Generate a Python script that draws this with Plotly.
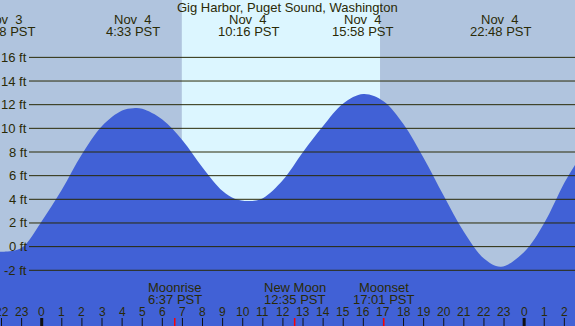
import plotly.graph_objects as go

W, H = 575, 326

# Tide curve: hours since Nov 4 00:00 PST, height in ft
hours = [-2.1, -1.87, -1.0, 0, 1, 2, 3, 4, 4.55, 5, 6, 7, 8, 9, 9.6, 10.3, 11,
         12, 13, 14, 15, 16, 17, 18, 19, 20, 21, 22, 22.85, 24, 25, 26, 26.6]
heights = [-0.42, -0.43, -0.1, 2.15, 4.8, 7.8, 10.2, 11.5, 11.7, 11.65, 10.75,
           9.0, 6.7, 4.7, 4.05, 3.85, 4.1, 5.63, 8.0, 10.2, 12.1, 12.9, 12.3,
           10.35, 7.5, 4.3, 1.25, -1.0, -1.7, -0.45, 2.0, 5.4, 7.1]

# Tide extremes labels (top)
event_hours = [-1.867, 4.55, 10.267, 15.967, 22.8]
event_dates = ["Nov\u00a0\u00a03", "Nov\u00a0\u00a04", "Nov\u00a0\u00a04", "Nov\u00a0\u00a04", "Nov\u00a0\u00a04"]
event_times = ["22:08 PST", "4:33 PST", "10:16 PST", "15:58 PST", "22:48 PST"]

# Moon events (bottom)
moon_hours = [6.617, 12.583, 17.017]
moon_names = ["Moonrise", "New Moon", "Moonset"]
moon_times = ["6:37 PST", "12:35 PST", "17:01 PST"]

# Daylight
sunrise_h, sunset_h = 6.97, 16.83

ft_ticks = [-2, 0, 2, 4, 6, 8, 10, 12, 14, 16]
hour_ticks = list(range(-2, 27))

X0, X1 = -2.075, 26.53
Y0, Y1 = -6.71, 20.85

BG = "#b0c4de"
DAY = "#dcf6ff"
FILL = "#4161d6"
INK = "#2a2a06"
FONT = "Liberation Sans, Arial, sans-serif"


def py(p):
    return 1 - p / H


fig = go.Figure()
fig.add_trace(go.Scatter(x=[X0 - 1, X1 + 1], y=[-20, -20], mode="lines",
                         line=dict(width=0), hoverinfo="skip", showlegend=False))
fig.add_trace(go.Scatter(x=hours, y=heights, mode="lines", fill="tonexty",
                         fillcolor=FILL, line=dict(width=0, color=FILL, shape="spline", smoothing=1.0),
                         hoverinfo="skip", showlegend=False))

shapes = []
shapes.append(dict(type="rect", xref="x", yref="paper", x0=sunrise_h, x1=sunset_h,
                   y0=0, y1=1, fillcolor=DAY, line=dict(width=0), layer="below"))
for f in ft_ticks:
    shapes.append(dict(type="line", xref="paper", yref="y", x0=29 / W, x1=1, y0=f, y1=f,
                       line=dict(color=INK, width=1), layer="above"))
for h in hour_ticks:
    midnight = (h % 24 == 0)
    shapes.append(dict(type="line", xref="x", yref="paper", x0=h, x1=h,
                       y0=0, y1=py(318), line=dict(color="#111111", width=3 if midnight else 1),
                       layer="above"))
for h in moon_hours:
    shapes.append(dict(type="line", xref="x", yref="paper", x0=h, x1=h,
                       y0=0, y1=py(318), line=dict(color="#ff0000", width=1.5), layer="above"))

ann = []
ann.append(dict(text="Gig Harbor, Puget Sound, Washington", xref="paper", yref="paper",
                x=0.5, y=py(8), xanchor="center", yanchor="middle", showarrow=False,
                font=dict(size=13, color=INK, family=FONT)))
for h, d, t in zip(event_hours, event_dates, event_times):
    ann.append(dict(text=d, xref="x", yref="paper", x=h, y=py(19), xanchor="center",
                    yanchor="middle", showarrow=False, font=dict(size=13, color=INK, family=FONT)))
    ann.append(dict(text=t, xref="x", yref="paper", x=h, y=py(31.5), xanchor="center",
                    yanchor="middle", showarrow=False, font=dict(size=13, color=INK, family=FONT)))
for f in ft_ticks:
    ann.append(dict(text=f"{f} ft", xref="paper", yref="y", x=29 / W, y=f, xanchor="right",
                    yanchor="middle", showarrow=False, font=dict(size=13, color=INK, family=FONT)))
for h, n, t in zip(moon_hours, moon_names, moon_times):
    ann.append(dict(text=n, xref="x", yref="paper", x=h, y=py(287), xanchor="center",
                    yanchor="middle", showarrow=False, font=dict(size=13, color=INK, family=FONT)))
    ann.append(dict(text=t, xref="x", yref="paper", x=h, y=py(299), xanchor="center",
                    yanchor="middle", showarrow=False, font=dict(size=13, color=INK, family=FONT)))
for h in hour_ticks:
    ann.append(dict(text=str(h % 24), xref="x", yref="paper", x=h, y=py(312), xanchor="center",
                    yanchor="middle", showarrow=False, font=dict(size=12, color=INK, family=FONT)))

fig.update_layout(
    width=W, height=H, margin=dict(l=0, r=0, t=0, b=0),
    paper_bgcolor=BG, plot_bgcolor=BG,
    xaxis=dict(range=[X0, X1], visible=False, fixedrange=True),
    yaxis=dict(range=[Y0, Y1], visible=False, fixedrange=True),
    shapes=shapes, annotations=ann, showlegend=False,
)

fig.write_html("out.html", config={"displayModeBar": False, "staticPlot": True},
               post_script="document.body.style.margin='0';document.body.style.padding='0';"
                           "document.body.style.overflow='hidden';")
